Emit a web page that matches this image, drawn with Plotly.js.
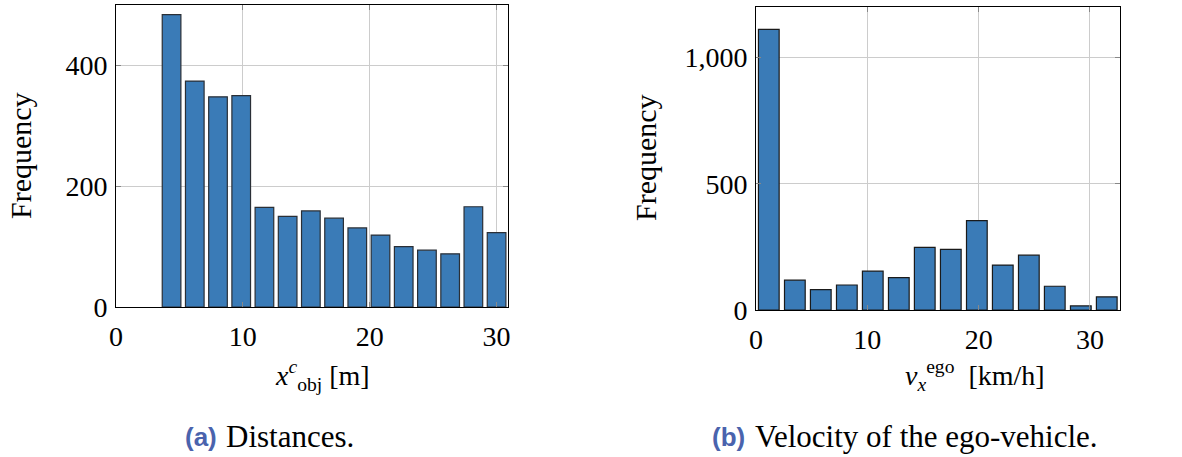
<!DOCTYPE html>
<html>
<head>
<meta charset="utf-8">
<script src="https://cdn.plot.ly/plotly-3.0.1.min.js"></script>
<style>html,body{margin:0;padding:0;background:#fff;}#chart{width:1182px;height:457px;}</style>
</head>
<body>
<div id="chart"></div>
<script>
// Distances histogram (bin centers in m)
const distCenters = [4.38, 6.21, 8.04, 9.87, 11.70, 13.53, 15.36, 17.19, 19.02, 20.85, 22.68, 24.51, 26.34, 28.17, 30.00];
const distCounts  = [484, 374, 348, 350, 165, 150, 159, 147, 131, 119, 100, 94, 88, 166, 123];
// Velocity histogram (bin centers in km/h)
const velCenters = [1.15, 3.49, 5.82, 8.16, 10.49, 12.83, 15.16, 17.50, 19.84, 22.17, 24.51, 26.84, 29.18, 31.51];
const velCounts  = [1111, 118, 81, 99, 154, 128, 248, 240, 354, 178, 217, 94, 16, 52];

const xTicksA = [0, 10, 20, 30];
const yTicksA = [0, 200, 400];
const xTicksB = [0, 10, 20, 30];
const yTicksB = [0, 500, 1000];

const barColor = '#3a7bb7';
const serif = 'Liberation Serif';
const sans = 'Liberation Sans';

const traces = [
  {type:'bar', x: distCenters, y: distCounts, width: 1.47, xaxis:'x', yaxis:'y',
   marker:{color:barColor, line:{color:'#2a2f36', width:1.2}}, hoverinfo:'x+y'},
  {type:'bar', x: velCenters, y: velCounts, width: 1.86, xaxis:'x2', yaxis:'y2',
   marker:{color:barColor, line:{color:'#1a1a1a', width:1.2}}, hoverinfo:'x+y'}
];

const axCommon = {
  showline:true, linecolor:'#000', linewidth:1, mirror:'ticks',
  showgrid:true, gridcolor:'#cccccc', gridwidth:1,
  ticks:'inside', ticklen:5, tickcolor:'#888', tickwidth:1,
  zeroline:false, tickfont:{family:serif, size:28, color:'#000'},
  fixedrange:true
};

const layout = {
  width:1182, height:457,
  margin:{l:0, r:0, t:0, b:0},
  paper_bgcolor:'#fff', plot_bgcolor:'#fff',
  showlegend:false,
  font:{family:serif, color:'#000'},
  xaxis: Object.assign({}, axCommon, {domain:[116/1182, 508/1182], range:[0, 30.9], tickvals:xTicksA, ticktext:xTicksA.map(String), anchor:'y', ticklabelstandoff:4}),
  yaxis: Object.assign({}, axCommon, {domain:[1-307/457, 1-5/457], range:[0, 500], tickvals:yTicksA, ticktext:yTicksA.map(String), anchor:'x', ticklabelstandoff:2}),
  xaxis2: Object.assign({}, axCommon, {domain:[756/1182, 1120/1182], range:[0, 32.7], tickvals:xTicksB, ticktext:xTicksB.map(String), anchor:'y2', ticklabelstandoff:4}),
  yaxis2: Object.assign({}, axCommon, {domain:[1-310/457, 1-7/457], range:[0, 1200], tickvals:yTicksB, ticktext:yTicksB.map(v => v.toLocaleString('en-US')), anchor:'x2', ticklabelstandoff:2}),
  annotations: [
    {text:'Frequency', textangle:-90, xref:'paper', yref:'paper', x:21/1182, y:1-156/457, showarrow:false, xanchor:'center', yanchor:'middle', font:{family:serif, size:30, color:'#000'}},
    {text:'Frequency', textangle:-90, xref:'paper', yref:'paper', x:645/1182, y:1-158/457, showarrow:false, xanchor:'center', yanchor:'middle', font:{family:serif, size:30, color:'#000'}},
    {text:'<i>x</i><sup><i>c</i></sup><sub>obj</sub> [m]', xref:'paper', yref:'paper', x:322/1182, y:1-375/457, showarrow:false, xanchor:'center', yanchor:'middle', font:{family:serif, size:28, color:'#000'}},
    {text:'<i>v</i><sub><i>x</i></sub><sup>ego</sup>  [km/h]', xref:'paper', yref:'paper', x:975/1182, y:1-375/457, showarrow:false, xanchor:'center', yanchor:'middle', font:{family:serif, size:28, color:'#000'}},
    {text:'<b>(a)</b>', xref:'paper', yref:'paper', x:219/1182, y:1-437/457, showarrow:false, xanchor:'right', yanchor:'middle', font:{family:sans, size:26, color:'#4a63ad'}},
    {text:'Distances.', xref:'paper', yref:'paper', x:224/1182, y:1-436/457, showarrow:false, xanchor:'left', yanchor:'middle', font:{family:serif, size:31, color:'#000'}},
    {text:'<b>(b)</b>', xref:'paper', yref:'paper', x:747/1182, y:1-437/457, showarrow:false, xanchor:'right', yanchor:'middle', font:{family:sans, size:26, color:'#4a63ad'}},
    {text:'Velocity of the ego-vehicle.', xref:'paper', yref:'paper', x:753/1182, y:1-436/457, showarrow:false, xanchor:'left', yanchor:'middle', font:{family:serif, size:31, color:'#000'}}
  ]
};

Plotly.newPlot('chart', traces, layout, {displayModeBar:false, staticPlot:true});
</script>
</body>
</html>
